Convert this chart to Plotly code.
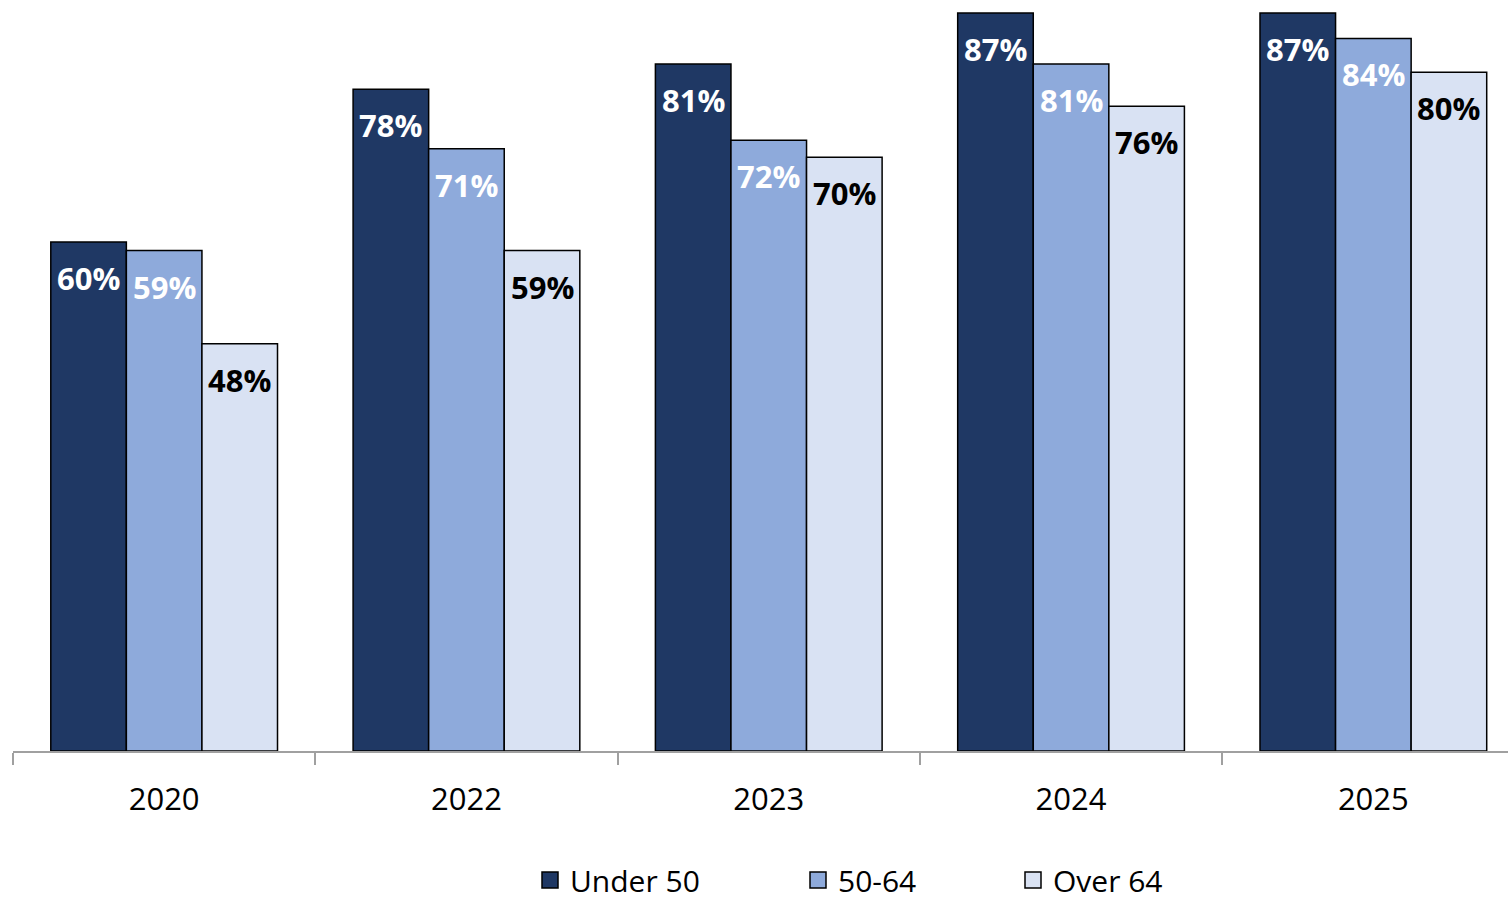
import plotly.graph_objects as go

# Survey years and share of respondents by age group
years = ["2020", "2022", "2023", "2024", "2025"]
under_50 = [0.60, 0.78, 0.81, 0.87, 0.87]
age_50_64 = [0.59, 0.71, 0.72, 0.81, 0.84]
over_64 = [0.48, 0.59, 0.70, 0.76, 0.80]

series = [
    ("Under 50", under_50, "#1F3864", "white"),
    ("50-64", age_50_64, "#8EAADB", "white"),
    ("Over 64", over_64, "#D9E2F3", "black"),
]

FONT = "Open Sans"
W, H = 1509, 899
M_L, M_R, M_T, M_B = 13, 1, 0, 148
plot_w = W - M_L - M_R
plot_h = H - M_T - M_B
cat_px = 302.3  # width of one year slot in pixels
x_max = -0.5 + plot_w / cat_px  # last slot runs slightly past the right edge
bargap = 0.25
bar_px = cat_px * (1 - bargap) / len(series)

fig = go.Figure()
annotations = []
legend_x = [530, 798, 1013]  # pixel positions of the legend entries

for i, (name, vals, color, txt_color) in enumerate(series):
    fig.add_trace(go.Bar(
        x=years, y=vals, name=name,
        marker=dict(color=color, line=dict(color="black", width=1.5)),
        showlegend=False,
    ))
    # legend proxy with a larger square swatch
    lg = "legend" if i == 0 else f"legend{i + 1}"
    fig.add_trace(go.Scatter(
        x=[years[0]], y=[None], mode="markers", name=name,
        marker=dict(symbol="square", size=16, color=color,
                    line=dict(color="black", width=1.5)),
        legend=lg, showlegend=True, hoverinfo="skip",
    ))
    offset = (i - 1) * bar_px
    for j, v in enumerate(vals):
        # value label near the top of each bar (x given as category index)
        annotations.append(dict(
            x=j, y=v, xref="x", yref="y",
            text=f"<b>{round(v * 100)}%</b>",
            showarrow=False, xshift=offset, yshift=-36,
            yanchor="middle", xanchor="center",
            font=dict(family=FONT, size=31, color=txt_color),
        ))

legend_common = dict(
    orientation="h", yanchor="middle", xanchor="left",
    font=dict(family=FONT, size=30, color="black"),
    bgcolor="rgba(0,0,0,0)", itemsizing="trace",
)
legend_y = -(880 - (H - M_B)) / plot_h
layouts = {}
for i, px in enumerate(legend_x):
    key = "legend" if i == 0 else f"legend{i + 1}"
    layouts[key] = dict(legend_common, x=(px - M_L) / plot_w, y=legend_y)

fig.update_layout(
    width=W, height=H,
    margin=dict(l=M_L, r=M_R, t=M_T, b=M_B, autoexpand=False),
    paper_bgcolor="white", plot_bgcolor="white",
    barmode="group", bargap=bargap, bargroupgap=0,
    annotations=annotations,
    xaxis=dict(
        type="category", categoryorder="array", categoryarray=years,
        range=[-0.5, x_max],
        showgrid=False, zeroline=False,
        showline=True, linecolor="#A0A0A0", linewidth=1.5,
        ticks="outside", tickson="boundaries", ticklen=12,
        tickcolor="#A0A0A0", tickwidth=1.5, tickangle=0,
        tickfont=dict(family=FONT, size=31, color="black"),
        ticklabelstandoff=20,
    ),
    yaxis=dict(range=[0, 0.8853], visible=False, showgrid=False),
    **layouts,
)

fig.write_html("out.html")
